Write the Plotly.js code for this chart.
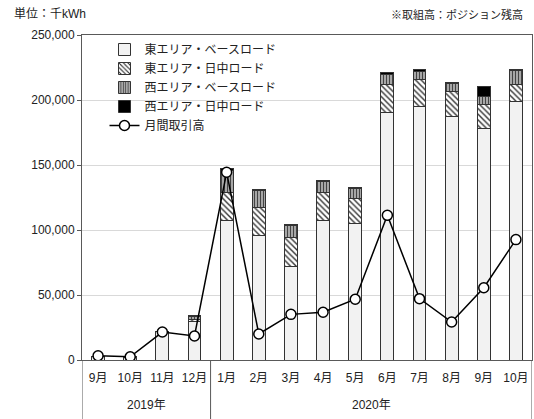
<!DOCTYPE html>
<html>
<head>
<meta charset="utf-8">
<script src="https://cdn.plot.ly/plotly-3.0.1.min.js"></script>
<style>html,body{margin:0;padding:0;background:#fff;}#chart{width:534px;height:419px;}</style>
</head>
<body>
<div id="chart"></div>
<script>
const years = ['2019年','2019年','2019年','2019年','2020年','2020年','2020年','2020年','2020年','2020年','2020年','2020年','2020年','2020年'];
const months = ['9月','10月','11月','12月','1月','2月','3月','4月','5月','6月','7月','8月','9月','10月'];
const eastBase = [2500, 2000, 21800, 30000, 107000, 96000, 72300, 107200, 105100, 190200, 194900, 187200, 177900, 198700];
const eastDay  = [0, 0, 0, 1500, 21500, 21500, 21800, 21800, 19300, 21800, 20500, 19200, 19000, 13300];
const westBase = [500, 500, 0, 1800, 17500, 13000, 9000, 8000, 7200, 7700, 6400, 6100, 5600, 10500];
const westDay  = [0, 0, 0, 700, 1000, 1000, 1300, 900, 900, 1600, 1500, 1300, 7800, 1100];
const monthly  = [3300, 2500, 21500, 18500, 144400, 20000, 35100, 36700, 46700, 111300, 47200, 29200, 55600, 92600];

const FONT = '"Liberation Sans", Arial, "Noto Sans CJK JP", sans-serif';
const TXT = '#222222';
const AX = '#595959';

// unique category keys built from year + month
const cats = years.map((y, i) => y + months[i]);

const outline = {color: '#333333', width: 1};

const traces = [
  {type: 'bar', name: '東エリア・ベースロード', x: cats, y: eastBase,
   marker: {color: '#f2f2f2', line: outline}},
  {type: 'bar', name: '東エリア・日中ロード', x: cats, y: eastDay,
   marker: {color: '#ffffff', line: outline,
            pattern: {shape: '\\', fgcolor: '#333333', bgcolor: '#ffffff', size: 4, solidity: 0.35}}},
  {type: 'bar', name: '西エリア・ベースロード', x: cats, y: westBase,
   marker: {color: '#aaaaaa', line: outline,
            pattern: {shape: '|', fgcolor: '#444444', bgcolor: '#c8c8c8', size: 3, solidity: 0.5}}},
  {type: 'bar', name: '西エリア・日中ロード', x: cats, y: westDay,
   marker: {color: '#000000', line: outline}},
  {type: 'scatter', mode: 'lines+markers', name: '月間取引高', x: cats, y: monthly,
   line: {color: '#000000', width: 1.5},
   marker: {symbol: 'circle', size: 10, color: '#ffffff', line: {color: '#000000', width: 1.5}}}
];

// year group labels and dividers
const groups = [];
years.forEach((y, i) => {
  if (!groups.length || groups[groups.length - 1].name !== y) groups.push({name: y, start: i, end: i});
  else groups[groups.length - 1].end = i;
});
const annotations = groups.map(g => ({
  text: g.name, xref: 'x', yref: 'paper', x: (g.start + g.end) / 2, y: -0.138,
  xanchor: 'center', yanchor: 'middle', showarrow: false,
  font: {family: FONT, size: 12, color: TXT}
}));
annotations.push(
  {text: '単位：千kWh', xref: 'paper', yref: 'paper', x: -0.155, y: 1.0, xanchor: 'left', yanchor: 'bottom',
   yshift: 12, showarrow: false, font: {family: FONT, size: 12, color: TXT}},
  {text: '※取組高：ポジション残高', xref: 'paper', yref: 'paper', x: 0.985, y: 1.0, xanchor: 'right', yanchor: 'bottom',
   yshift: 12, showarrow: false, font: {family: FONT, size: 11, color: TXT}}
);
const dividerPos = [groups[0].start - 0.5].concat(groups.map(g => g.end + 0.5));
const shapes = dividerPos.map(p => ({
  type: 'line', xref: 'x', yref: 'paper', x0: p, x1: p, y0: 0, y1: -0.2,
  line: {color: AX, width: 1}
}));

const layout = {
  width: 534, height: 419,
  margin: {l: 82, r: 2, t: 35, b: 59},
  paper_bgcolor: '#ffffff', plot_bgcolor: '#ffffff',
  font: {family: FONT, size: 12, color: TXT},
  barmode: 'stack', bargap: 0.6,
  showlegend: true,
  legend: {x: 0.05, y: 1.0, xanchor: 'left', yanchor: 'top', traceorder: 'normal',
           bgcolor: 'rgba(255,255,255,0)', borderwidth: 0,
           font: {family: FONT, size: 12, color: TXT}},
  xaxis: {type: 'category', tickvals: cats, ticktext: months, tickangle: 0,
          range: [-0.5, cats.length - 0.5],
          showline: true, linecolor: AX, linewidth: 1, mirror: true,
          ticks: '', showgrid: false, ticklabelstandoff: 7,
          tickfont: {family: FONT, size: 12, color: TXT}},
  yaxis: {range: [0, 250000], dtick: 50000, tickformat: ',d',
          showline: true, linecolor: AX, linewidth: 1, mirror: true,
          ticks: 'outside', ticklen: 4, tickcolor: AX,
          showgrid: true, gridcolor: '#d9d9d9', gridwidth: 1,
          zeroline: false,
          tickfont: {family: FONT, size: 12, color: TXT}},
  annotations: annotations,
  shapes: shapes
};

Plotly.newPlot('chart', traces, layout, {displayModeBar: false, staticPlot: true});
</script>
</body>
</html>
